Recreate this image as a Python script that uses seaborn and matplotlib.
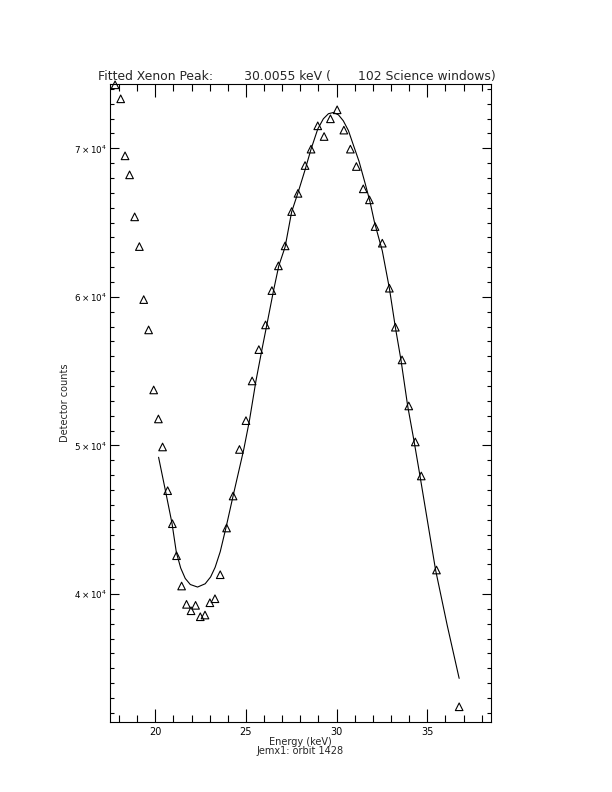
import matplotlib
matplotlib.use('Agg')
import matplotlib.pyplot as plt
import matplotlib.ticker as ticker
import seaborn as sns
import pandas as pd

# measured detector counts (triangles)
energy = [17.78, 18.09, 18.33, 18.58, 18.86, 19.12, 19.36, 19.63, 19.91, 20.17,
          20.40, 20.68, 20.94, 21.17, 21.45, 21.72, 21.97, 22.22, 22.48, 22.74,
          23.01, 23.29, 23.58, 23.93, 24.29, 24.64, 25.00, 25.34, 25.71, 26.08,
          26.43, 26.79, 27.16, 27.52, 27.87, 28.26, 28.59, 28.96, 29.31, 29.66,
          30.03, 30.40, 30.76, 31.09, 31.47, 31.81, 32.12, 32.52, 32.91, 33.24,
          33.61, 33.98, 34.34, 34.67, 35.51, 36.76]
counts = [74276, 73333, 69495, 68215, 65387, 63387, 59818, 57778, 53737, 51785,
          49899, 46956, 44734, 42579, 40539, 39306, 38875, 39239, 38471, 38586,
          39414, 39684, 41300, 44444, 46599, 49731, 51670, 54343, 56451, 58114,
          60424, 62088, 63434, 65744, 66970, 68842, 69946, 71515, 70795, 71987,
          72593, 71226, 69946, 68775, 67273, 66532, 64734, 63616, 60586, 57960,
          55758, 52660, 50236, 47946, 41616, 32411]

# fitted curve
fit_energy = [20.18, 20.55, 20.92, 21.16, 21.40, 21.65, 21.93, 22.33, 22.75, 23.05,
              23.30, 23.58, 23.91, 24.28, 24.88, 25.19, 25.55, 25.88, 26.15, 26.52,
              26.81, 27.16, 27.52, 27.89, 28.26, 28.59, 28.96, 29.27, 29.55, 29.82,
              30.10, 30.37, 30.65, 30.92, 31.24, 31.57, 31.84, 32.08, 32.25, 32.52,
              32.91, 33.24, 33.55, 33.92, 34.28, 34.60, 35.46, 36.10, 36.76]
fit_counts = [49205, 47003, 44761, 42800, 41750, 41050, 40640, 40470, 40690, 41150,
              41800, 42848, 44532, 46552, 49744, 51670, 54343, 56451, 58114, 60424,
              62088, 63367, 65724, 67091, 68552, 69946, 71300, 71990, 72330, 72411,
              72256, 71852, 71200, 70236, 69111, 67656, 66417, 65071, 64300, 63100,
              60586, 57960, 55758, 52660, 50236, 47946, 41616, 37900, 34323]

title = 'Fitted Xenon Peak:        30.0055 keV (       102 Science windows)'

data = pd.DataFrame({'Energy': energy, 'Counts': counts})
fit = pd.DataFrame({'Energy': fit_energy, 'Counts': fit_counts})

sns.set_style('ticks')
plt.rcParams['font.family'] = ['DejaVu Sans']

fig = plt.figure(figsize=(6.12, 7.92), dpi=100)
ax = fig.add_axes([110/612, 70.5/792, 380.7/612, 637.5/792])

sns.lineplot(data=fit, x='Energy', y='Counts', color='black', linewidth=0.8,
             estimator=None, sort=True, ax=ax)
sns.scatterplot(data=data, x='Energy', y='Counts', marker='^', s=30,
                facecolor='none', edgecolor='black', linewidth=0.8, ax=ax,
                clip_on=False)

ax.set_xlim(17.5, 38.5)
ax.set_ylim(31420, 74330)

ax.xaxis.set_major_locator(ticker.MultipleLocator(5))
ax.xaxis.set_minor_locator(ticker.MultipleLocator(1))
ax.yaxis.set_major_locator(ticker.MultipleLocator(10000))
ax.yaxis.set_minor_locator(ticker.MultipleLocator(1000))
ax.yaxis.set_major_formatter(ticker.FuncFormatter(
    lambda v, pos: r'$%d\times10^{4}$' % round(v / 10000)))

ax.tick_params(which='both', direction='in', top=True, right=True,
               colors='black', width=0.8)
ax.tick_params(axis='x', which='major', length=9.5, pad=4, labelsize=7)
ax.tick_params(axis='x', which='minor', length=5)
ax.tick_params(axis='y', which='major', length=6.5, pad=2, labelsize=6.3)
ax.tick_params(axis='y', which='minor', length=3.2)

for s in ax.spines.values():
    s.set_linewidth(0.8)
    s.set_color('black')

ax.set_xlabel('Energy (keV)\nJemx1: orbit 1428', fontsize=7, labelpad=0,
              linespacing=0.85)
ax.set_ylabel('Detector counts', fontsize=7, labelpad=3)
ax.set_title(title, fontsize=8.9, pad=3, x=0.49)

plt.savefig('out.png', dpi=100)
